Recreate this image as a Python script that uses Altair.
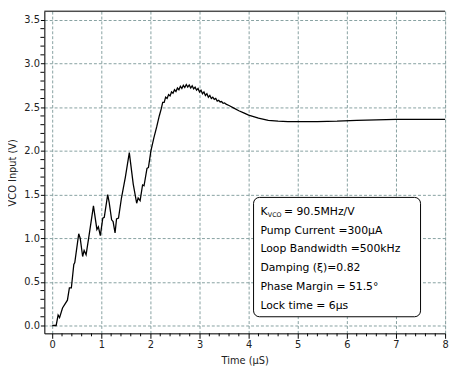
import altair as alt
import pandas as pd

# ---- curve data (time in µs, voltage in V) ----
t_vals = [0.00, 0.08, 0.12, 0.15, 0.21, 0.31, 0.35, 0.39, 0.44, 0.46, 0.54, 0.57, 0.62, 0.65, 0.69,
          0.75, 0.84, 0.91, 0.94, 0.98, 1.03, 1.06, 1.13, 1.16, 1.21, 1.24, 1.28, 1.31, 1.35, 1.41,
          1.49, 1.57, 1.65, 1.72, 1.75, 1.79, 1.84, 1.87, 1.93, 1.96, 2.01, 2.07, 2.13, 2.18, 2.22,
          2.25, 2.28, 2.31, 2.34, 2.37, 2.40, 2.43, 2.46, 2.49, 2.52, 2.55, 2.58, 2.61, 2.64, 2.67,
          2.70, 2.73, 2.76, 2.79, 2.82, 2.85, 2.88, 2.91, 2.94, 2.97, 3.00, 3.03, 3.06, 3.09, 3.12,
          3.15, 3.18, 3.21, 3.24, 3.27, 3.30, 3.33, 3.36, 3.39, 3.42, 3.45, 3.48, 3.51, 3.54, 3.60,
          3.70, 3.80, 3.90, 4.00, 4.20, 4.40, 4.60, 4.80, 5.00, 5.40, 5.80, 6.20, 6.60, 7.00, 7.50,
          8.00]
v_vals = [0.00, 0.00, 0.12, 0.09, 0.20, 0.29, 0.43, 0.43, 0.70, 0.72, 1.05, 1.00, 0.79, 0.86, 0.81,
          1.03, 1.37, 1.10, 1.13, 1.03, 1.23, 1.24, 1.50, 1.41, 1.21, 1.19, 1.06, 1.22, 1.23, 1.46,
          1.70, 1.98, 1.62, 1.40, 1.46, 1.43, 1.61, 1.60, 1.80, 1.81, 2.00, 2.15, 2.28, 2.40, 2.48,
          2.555, 2.555, 2.615, 2.60, 2.645, 2.63, 2.675, 2.66, 2.70, 2.68, 2.72, 2.70, 2.74, 2.715, 2.75,
          2.725, 2.76, 2.73, 2.755, 2.72, 2.745, 2.71, 2.73, 2.695, 2.715, 2.675, 2.695, 2.655, 2.675, 2.635,
          2.655, 2.615, 2.635, 2.60, 2.615, 2.59, 2.60, 2.57, 2.58, 2.56, 2.565, 2.545, 2.55, 2.535, 2.52,
          2.49, 2.46, 2.435, 2.41, 2.375, 2.35, 2.34, 2.335, 2.335, 2.335, 2.34, 2.35, 2.355, 2.36, 2.36,
          2.36]

# ---- axis ticks ----
x_major = [0, 1, 2, 3, 4, 5, 6, 7, 8]
x_minor = [0.2, 0.4, 0.6, 0.8, 1.2, 1.4, 1.6, 1.8, 2.2, 2.4, 2.6, 2.8, 3.2, 3.4, 3.6, 3.8,
           4.2, 4.4, 4.6, 4.8, 5.2, 5.4, 5.6, 5.8, 6.2, 6.4, 6.6, 6.8, 7.2, 7.4, 7.6, 7.8]
y_major = [0.0, 0.5, 1.0, 1.5, 2.0, 2.5, 3.0, 3.5]
y_minor = [0.1, 0.2, 0.3, 0.4, 0.6, 0.7, 0.8, 0.9, 1.1, 1.2, 1.3, 1.4, 1.6, 1.7, 1.8, 1.9,
           2.1, 2.2, 2.3, 2.4, 2.6, 2.7, 2.8, 2.9, 3.1, 3.2, 3.3, 3.4]

# ---- annotation box ----
box = pd.DataFrame({"x": [4.10], "x2": [7.50], "y": [1.467], "y2": [0.10]})
ann_lines = ["Pump Current =300\u00b5A", "Loop Bandwidth =500kHz", "Damping (\u03be)=0.82",
             "Phase Margin = 51.5\u00b0", "Lock time = 6\u00b5s"]
ann_y = [1.085, 0.87, 0.655, 0.44, 0.225]
ann_x = [4.24, 4.24, 4.24, 4.24, 4.24]
k_text = ["K"]
k_sub = ["VCO"]
k_rest = ["= 90.5MHz/V"]
k_y = 1.30

FONT = "DejaVu Sans"
W, H = 408, 328
GRID = "#86a0a0"

df = pd.DataFrame({"t": t_vals, "v": v_vals})

xscale = alt.Scale(domain=[-0.16, 8], nice=False, zero=False)
yscale = alt.Scale(domain=[-0.09, 3.6], nice=False, zero=False)

xaxis = alt.Axis(values=x_major, title="Time (\u00b5S)", format="d", labelOverlap=False,
                 labelFlush=False, labelFont=FONT, labelFontSize=10, labelColor="#222",
                 titleFont=FONT, titleFontSize=10, titleFontWeight="normal", titleColor="#222",
                 titlePadding=7, labelPadding=1, tickSize=5,
                 domainColor="black", tickColor="black",
                 grid=True, gridColor=GRID, gridDash=[3, 2])
yaxis = alt.Axis(values=y_major, title="VCO Input (V)", format=".1f", labelOverlap=False,
                 labelFlush=False, labelFont=FONT, labelFontSize=10, labelColor="#222",
                 titleFont=FONT, titleFontSize=10, titleFontWeight="normal", titleColor="#222",
                 titlePadding=6, labelPadding=1, tickSize=4,
                 domainColor="black", tickColor="black",
                 grid=True, gridColor=GRID, gridDash=[3, 2])

line = alt.Chart(df).mark_line(color="black", strokeWidth=1.3, clip=True).encode(
    x=alt.X("t:Q", scale=xscale, axis=xaxis),
    y=alt.Y("v:Q", scale=yscale, axis=yaxis),
)

top = alt.Chart(pd.DataFrame({"a": [0]})).mark_rule(color="black", strokeWidth=1).encode(
    x=alt.value(0), x2=alt.value(W), y=alt.value(0)
)

xmin = alt.Chart(pd.DataFrame({"m": x_minor})).mark_rule(color="black", strokeWidth=1).encode(
    x=alt.X("m:Q", scale=xscale), y=alt.value(H), y2=alt.value(H + 3)
)
ymin = alt.Chart(pd.DataFrame({"m": y_minor})).mark_rule(color="black", strokeWidth=1).encode(
    y=alt.Y("m:Q", scale=yscale), x=alt.value(-4), x2=alt.value(0)
)

rect = alt.Chart(box).mark_rect(fill="white", stroke="black", strokeWidth=1, cornerRadius=6).encode(
    x=alt.X("x:Q", scale=xscale), x2="x2:Q",
    y=alt.Y("y:Q", scale=yscale), y2="y2:Q",
)

ann = alt.Chart(pd.DataFrame({"x": ann_x, "y": ann_y, "s": ann_lines})).mark_text(
    align="left", baseline="middle", font=FONT, fontSize=11, color="black"
).encode(x=alt.X("x:Q", scale=xscale), y=alt.Y("y:Q", scale=yscale), text="s:N")

k1 = alt.Chart(pd.DataFrame({"x": [4.24], "y": [k_y], "s": k_text})).mark_text(
    align="left", baseline="middle", font=FONT, fontSize=11, color="black"
).encode(x=alt.X("x:Q", scale=xscale), y=alt.Y("y:Q", scale=yscale), text="s:N")
k2 = alt.Chart(pd.DataFrame({"x": [4.39], "y": [k_y - 0.04], "s": k_sub})).mark_text(
    align="left", baseline="middle", font=FONT, fontSize=6.5, color="black"
).encode(x=alt.X("x:Q", scale=xscale), y=alt.Y("y:Q", scale=yscale), text="s:N")
k3 = alt.Chart(pd.DataFrame({"x": [4.72], "y": [k_y], "s": k_rest})).mark_text(
    align="left", baseline="middle", font=FONT, fontSize=11, color="black"
).encode(x=alt.X("x:Q", scale=xscale), y=alt.Y("y:Q", scale=yscale), text="s:N")

chart = alt.layer(line, top, xmin, ymin, rect, ann, k1, k2, k3).properties(
    width=W, height=H,
    autosize=alt.AutoSizeParams(type="none"),
    padding={"left": 37, "top": 0, "right": 5, "bottom": 30},
).configure_view(stroke=None).configure(background="white")

chart.save("out.html", embed_options={"renderer": "svg", "actions": False})
